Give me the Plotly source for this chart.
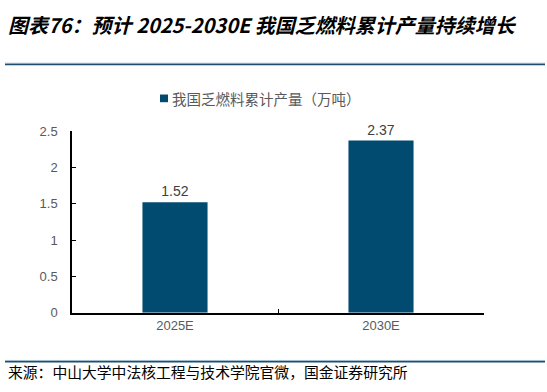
import plotly.graph_objects as go

categories = ["2025E", "2030E"]
values = [1.52, 2.37]
series_name = "我国乏燃料累计产量（万吨）"
title_text = "图表76：预计 2025-2030E 我国乏燃料累计产量持续增长"
source_text = "来源：中山大学中法核工程与技术学院官微，国金证券研究所"

W, H = 547, 392
bar_color = "#024B70"

fig = go.Figure()
fig.add_trace(go.Bar(
    x=categories, y=values, name=series_name,
    marker=dict(color=bar_color, line=dict(width=0)),
    text=[f"{v:.2f}" for v in values], textposition="outside",
    textfont=dict(size=14, color="#404040", family="Liberation Sans, Arial, sans-serif"),
    cliponaxis=False, showlegend=False,
))

fig.update_layout(
    width=W, height=H,
    margin=dict(l=0, r=0, t=0, b=0),
    paper_bgcolor="white", plot_bgcolor="white",
    bargap=0.684,
    font=dict(family="Liberation Sans, Arial, sans-serif", color="#595959", size=13),
    showlegend=False,
    xaxis=dict(domain=[72 / W, 484 / W], type="category", tickson="boundaries",
               ticks="inside", ticklen=4, tickcolor="black", tickwidth=1,
               showline=True, linecolor="black", linewidth=1.5, showgrid=False,
               tickfont=dict(size=13, color="#595959")),
    yaxis=dict(domain=[74 / H, (H - 129) / H], range=[0, 2.5], dtick=0.5,
               ticks="inside", ticklen=4, tickcolor="black", tickwidth=1,
               showline=True, linecolor="black", linewidth=1.5, showgrid=False,
               zeroline=False, tickfont=dict(size=13, color="#595959"), ticklabelstandoff=10),
)

# legend key + series name
fig.add_shape(type="rect", xref="paper", yref="paper", x0=160 / W, x1=168 / W,
              y0=(H - 99) / H, y1=(H - 91) / H, fillcolor=bar_color, line=dict(width=0))
fig.add_annotation(x=170 / W, y=(H - 95) / H, xref="paper", yref="paper", xanchor="left", yanchor="middle",
                   text=series_name, showarrow=False,
                   font=dict(size=14.5, color="#595959", family="Noto Sans CJK SC, sans-serif"))

# title
fig.add_annotation(x=6 / W, y=(H - 18) / H, xref="paper", yref="paper", xanchor="left", yanchor="middle",
                   text="<i><b>" + title_text + "</b></i>", showarrow=False,
                   font=dict(size=20, color="black", family="Noto Sans CJK SC, sans-serif"))
# source
fig.add_annotation(x=6 / W, y=(H - 379) / H, xref="paper", yref="paper", xanchor="left", yanchor="middle",
                   text=source_text, showarrow=False,
                   font=dict(size=14.8, color="black", family="Noto Sans CJK SC, sans-serif"))

# rules
for py in (58.5, 367.5):
    fig.add_shape(type="line", xref="paper", yref="paper", x0=5 / W, x1=545 / W,
                  y0=(H - py) / H, y1=(H - py) / H, line=dict(color="#9BB8CC", width=1))
    fig.add_shape(type="line", xref="paper", yref="paper", x0=5 / W, x1=545 / W,
                  y0=(H - py - 1.3) / H, y1=(H - py - 1.3) / H, line=dict(color="#1F4E6E", width=1.5))

post = ("document.documentElement.style.margin='0';document.body.style.margin='0';"
        "document.body.style.overflow='hidden';"
        "var d=document.getElementById('{plot_id}');d.style.position='fixed';d.style.left='0';d.style.top='0';")
fig.write_html("out.html", config={"displayModeBar": False}, post_script=post)
